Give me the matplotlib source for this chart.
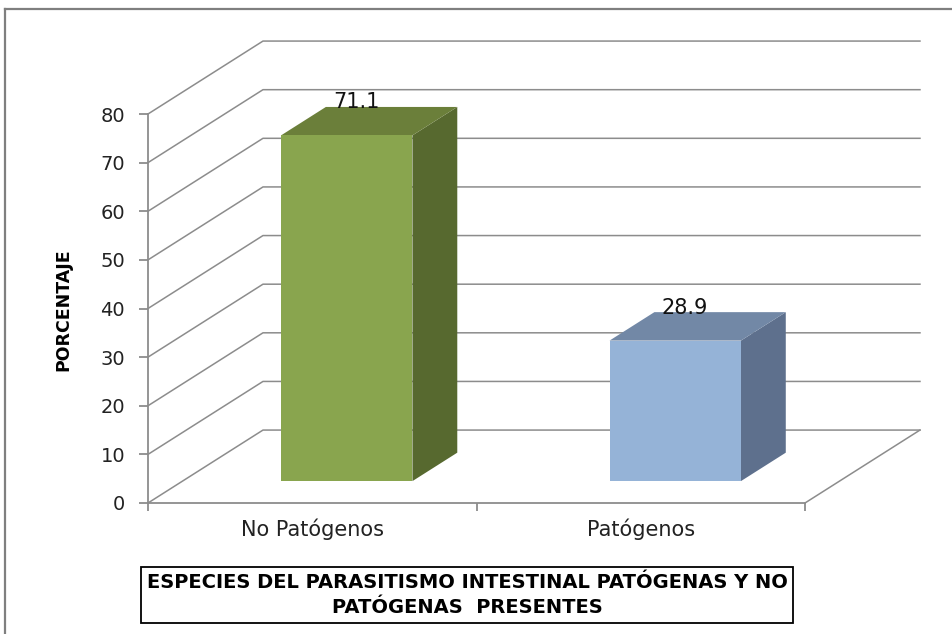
import matplotlib.pyplot as plt
from matplotlib.patches import Polygon
from matplotlib.lines import Line2D

categories = ["No Patógenos", "Patógenos"]
values = [71.1, 28.9]
labels = ["71.1", "28.9"]
yticks = [0, 10, 20, 30, 40, 50, 60, 70, 80]
front_colors = ["#89a54e", "#95b3d7"]
top_colors = ["#6b7f3a", "#7288a6"]
side_colors = ["#57692f", "#5e708d"]

W, H = 952, 634
fig = plt.figure(figsize=(W / 100, H / 100), dpi=100)
fig.patch.set_facecolor("white")

# front plot area: x 148..805 px, y 503..114 px
ax = fig.add_axes([148 / W, (H - 503) / H, 657 / W, 389 / H])
ax.set_xlim(0, 2)
ax.set_ylim(0, 80)
ax.patch.set_alpha(0)

grid = "#8c8c8c"
DX, DY = 0.35, 15.0   # depth offset of the back wall in data units

# side and back walls (gridlines)
for v in yticks:
    ax.add_line(Line2D([0, DX, 2 + DX], [v, v + DY, v + DY], color=grid, lw=1.1,
                       clip_on=False, zorder=1))
# floor right edge
ax.add_line(Line2D([2, 2 + DX], [0, DY], color=grid, lw=1.1, clip_on=False, zorder=1))

# 3d bars
bw = 0.40
f0 = 0.30    # front face depth fraction
fd = 0.39    # bar depth fraction
for i, v in enumerate(values):
    x0 = i + 0.5 - bw / 2 + f0 * DX
    x1 = x0 + bw
    y0 = f0 * DY
    y1 = y0 + v
    ddx, ddy = fd * DX, fd * DY
    side = [(x1, y0), (x1 + ddx, y0 + ddy), (x1 + ddx, y1 + ddy), (x1, y1)]
    top = [(x0, y1), (x1, y1), (x1 + ddx, y1 + ddy), (x0 + ddx, y1 + ddy)]
    front = [(x0, y0), (x1, y0), (x1, y1), (x0, y1)]
    ax.add_patch(Polygon(side, closed=True, facecolor=side_colors[i], edgecolor="none",
                         clip_on=False, zorder=3))
    ax.add_patch(Polygon(top, closed=True, facecolor=top_colors[i], edgecolor="none",
                         clip_on=False, zorder=3))
    ax.add_patch(Polygon(front, closed=True, facecolor=front_colors[i], edgecolor="none",
                         clip_on=False, zorder=4))
    ax.text(i + 0.635, v + 11.3, labels[i], ha="center", va="center", fontsize=15,
            color="#111111", zorder=5)

# axes
for s in ["top", "right"]:
    ax.spines[s].set_visible(False)
for s in ["left", "bottom"]:
    ax.spines[s].set_color(grid)
    ax.spines[s].set_linewidth(1.3)
ax.set_yticks(yticks)
ax.set_yticklabels([str(t) for t in yticks], fontsize=14, color="#222222")
ax.tick_params(axis="y", length=6.5, width=1.3, color=grid, pad=10)
ax.set_xticks([0, 1, 2])
ax.set_xticklabels([])
ax.tick_params(axis="x", length=6, width=1.3, color=grid)
ax.set_xticks([0.5, 1.5], minor=True)
ax.set_xticklabels(categories, minor=True, fontsize=15, color="#222222")
ax.tick_params(axis="x", which="minor", length=0, pad=11)

ax.set_ylabel("PORCENTAJE", fontsize=12.5, fontweight="bold", color="black")
ax.yaxis.set_label_coords((72 - 148) / 657, 0.496)

# title box below the chart
fig.text(467 / W, 1 - 595 / H, "ESPECIES DEL PARASITISMO INTESTINAL PATÓGENAS Y NO\nPATÓGENAS  PRESENTES",
         ha="center", va="center", fontsize=14, fontweight="bold", linespacing=1.4,
         bbox=dict(boxstyle="square,pad=0.3", facecolor="white", edgecolor="black", linewidth=1.3))

# outer chart border
fig.add_artist(Line2D([5 / W, 5 / W], [0, 1 - 9 / H], transform=fig.transFigure, color="#7f7f7f", lw=1.6))
fig.add_artist(Line2D([5 / W, 1], [1 - 9 / H, 1 - 9 / H], transform=fig.transFigure, color="#7f7f7f", lw=1.6))

fig.savefig("out.png", dpi=100)
